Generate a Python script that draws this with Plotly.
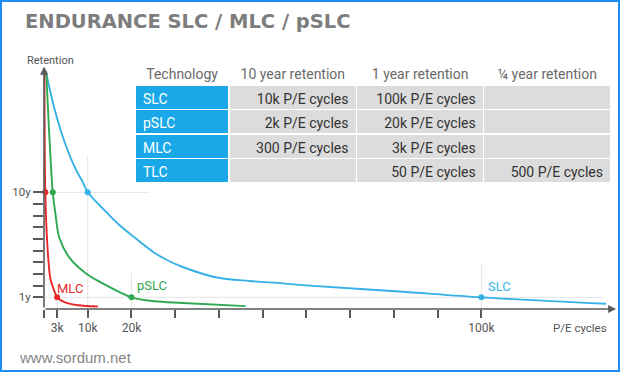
import plotly.graph_objects as go

# ---------------- data ----------------
slc_cycles = [400, 2500, 4800, 7100, 8700, 10000, 13200, 16900, 20800, 25300, 28100, 31700, 39500, 47000, 54600, 60700, 81300, 100000, 128500]
slc_years = [20.4, 17.0, 14.2, 12.1, 11.0, 10.0, 8.7, 7.3, 6.1, 4.8, 4.2, 3.6, 2.7, 2.4, 2.2, 2.0, 1.5, 1.0, 0.45]

pslc_cycles = [500, 2000, 2600, 3500, 5800, 9600, 13400, 20000, 25300, 31700, 46100]
pslc_years = [20.4, 10.0, 8.2, 6.1, 4.4, 3.05, 2.2, 1.0, 0.66, 0.52, 0.25]

mlc_cycles = [100, 300, 800, 1500, 2300, 3000, 4800, 7800, 12300]
mlc_years = [20.6, 10.0, 5.3, 2.5, 1.6, 1.0, 0.57, 0.32, 0.22]

# key points (10 year / 1 year retention)
slc_pts = ([10000, 100000], [10, 1])
pslc_pts = ([2000, 20000], [10, 1])
mlc_pts = ([300, 3000], [10, 1])

x_tickvals = [0, 3000, 10000, 20000, 30000, 40000, 50000, 60000, 70000, 80000, 90000, 100000]
x_ticktext = ["", "3k", "10k", "20k", "", "", "", "", "", "", "", "100k"]
y_tickvals = [1, 2, 3, 4, 5, 6, 7, 8, 9, 10]
y_ticktext = ["1y", "", "", "", "", "", "", "", "", "10y"]

table_header = ["Technology", "10 year retention", "1 year retention", "¼ year retention"]
tech = ["SLC", "pSLC", "MLC", "TLC"]
ret_10y = ["10k P/E cycles", "2k P/E cycles", "300 P/E cycles", ""]
ret_1y = ["100k P/E cycles", "20k P/E cycles", "3k P/E cycles", "50 P/E cycles"]
ret_q = ["", "", "", "500 P/E cycles"]

# ---------------- style ----------------
BLUE = "#36b1e6"
GREEN = "#2ea94f"
RED = "#e8282b"
AX = "#5a5a5a"
GRID = "#e4e4e4"
FONT = "Roboto"

W, H = 620, 372
L, R, T, B = 44, 3, 40, 63
XMAX = 131000
YMAX = 23.05

def px(x):
    return (x - L) / (W - L - R)

def py(y):
    return (H - B - y) / (H - T - B)

fig = go.Figure()

# guide lines
guides = [
    (0, 10, 24200, 10), (0, 1, 128000, 1),
    (10000, 0, 10000, 13.2), (20000, 0, 20000, 3.1), (100000, 0, 100000, 3.9), (3000, 0, 3000, 1),
]
for x0, y0, x1, y1 in guides:
    fig.add_shape(type="line", x0=x0, y0=y0, x1=x1, y1=y1, xref="x", yref="y",
                  line=dict(color=GRID, width=1), layer="below")

for cx, cy, col in [(slc_cycles, slc_years, BLUE), (pslc_cycles, pslc_years, GREEN), (mlc_cycles, mlc_years, RED)]:
    fig.add_trace(go.Scatter(x=cx, y=cy, mode="lines", line=dict(color=col, width=1.9, shape="spline", smoothing=0.9),
                             hoverinfo="skip", showlegend=False, cliponaxis=False))
for (pxs, pys), col in [(slc_pts, BLUE), (pslc_pts, GREEN), (mlc_pts, RED)]:
    fig.add_trace(go.Scatter(x=pxs, y=pys, mode="markers", marker=dict(color=col, size=6),
                             hoverinfo="skip", showlegend=False, cliponaxis=False))

# table
fig.add_trace(go.Table(
    domain=dict(x=[px(135), px(612)], y=[py(186), py(60)]),
    columnwidth=[94, 127, 127, 127],
    header=dict(values=table_header, fill_color="white", line=dict(color="white", width=0),
                align="center", height=25, font=dict(family=FONT, size=14, color="#6a6a6a")),
    cells=dict(values=[tech, ret_10y, ret_1y, ret_q],
               fill_color=[["#1aa8e8"] * 4, ["#dcdcdc"] * 4, ["#dcdcdc"] * 4, ["#dcdcdc"] * 4],
               line=dict(color="white", width=1.5),
               align=["left", "right", "right", "right"], height=24.5,
               font=dict(family=FONT, size=14, color=[["white"] * 4, ["#333333"] * 4, ["#333333"] * 4, ["#333333"] * 4])),
))

# axis arrows
fig.add_annotation(x=0, y=20.75, ax=0, ay=0, xref="x", yref="y", axref="x", ayref="y", text="",
                   showarrow=True, arrowhead=2, arrowsize=1, arrowwidth=1.6, arrowcolor=AX, standoff=0)
fig.add_annotation(x=130800, y=0, ax=0, ay=0, xref="x", yref="y", axref="x", ayref="y", text="",
                   showarrow=True, arrowhead=2, arrowsize=1, arrowwidth=1.6, arrowcolor=AX, standoff=0)

# curve labels
fig.add_annotation(x=px(55), y=py(288), xref="paper", yref="paper", text="MLC", showarrow=False,
                   xanchor="left", yanchor="middle", font=dict(family=FONT, size=13, color=RED))
fig.add_annotation(x=px(135), y=py(285), xref="paper", yref="paper", text="pSLC", showarrow=False,
                   xanchor="left", yanchor="middle", font=dict(family=FONT, size=13, color=GREEN))
fig.add_annotation(x=px(486), y=py(286), xref="paper", yref="paper", text="SLC", showarrow=False,
                   xanchor="left", yanchor="middle", font=dict(family=FONT, size=13, color=BLUE))

# axis titles
fig.add_annotation(x=px(50), y=py(60), xref="paper", yref="paper", text="Retention", showarrow=False,
                   xanchor="center", yanchor="middle", font=dict(family=FONT, size=11, color="#555"))
fig.add_annotation(x=px(609), y=py(328), xref="paper", yref="paper", text="P/E cycles", showarrow=False,
                   xanchor="right", yanchor="middle", font=dict(family=FONT, size=11.5, color="#555"))

# watermark
fig.add_annotation(x=px(17), y=py(357), xref="paper", yref="paper", text="www.sordum.net", showarrow=False,
                   xanchor="left", yanchor="middle", font=dict(family="Liberation Sans", size=15, color="#858585"))

# border
fig.add_shape(type="rect", xref="paper", yref="paper", x0=px(1), x1=px(619), y0=py(371), y1=py(1),
              line=dict(color="#1e8cf0", width=2), fillcolor="rgba(0,0,0,0)", layer="above")

fig.update_layout(
    width=W, height=H, margin=dict(l=L, r=R, t=T, b=B),
    paper_bgcolor="white", plot_bgcolor="white",
    title=dict(text="<b>ENDURANCE SLC / MLC / pSLC</b>", x=25 / W, xanchor="left", xref="container",
               y=1 - 21 / H, yanchor="middle", yref="container",
               font=dict(family="DejaVu Sans", size=19.5, color="#7d7d7d")),
    xaxis=dict(range=[0, XMAX], tickvals=x_tickvals, ticktext=x_ticktext, ticks="outside", ticklen=8,
               tickwidth=1.5, tickcolor=AX, showgrid=False, zeroline=False, showline=False, automargin=False,
               tickfont=dict(family=FONT, size=12, color="#555"), fixedrange=True),
    yaxis=dict(range=[0, YMAX], tickvals=y_tickvals, ticktext=y_ticktext, ticks="outside", ticklen=10,
               tickwidth=1.5, tickcolor=AX, showgrid=False, zeroline=False, showline=False, automargin=False,
               tickfont=dict(family=FONT, size=11.5, color="#555"), fixedrange=True),
)

fig.write_html("out.html", config={"displayModeBar": False},
               post_script="document.body.style.margin='0px';document.body.style.overflow='hidden';")
